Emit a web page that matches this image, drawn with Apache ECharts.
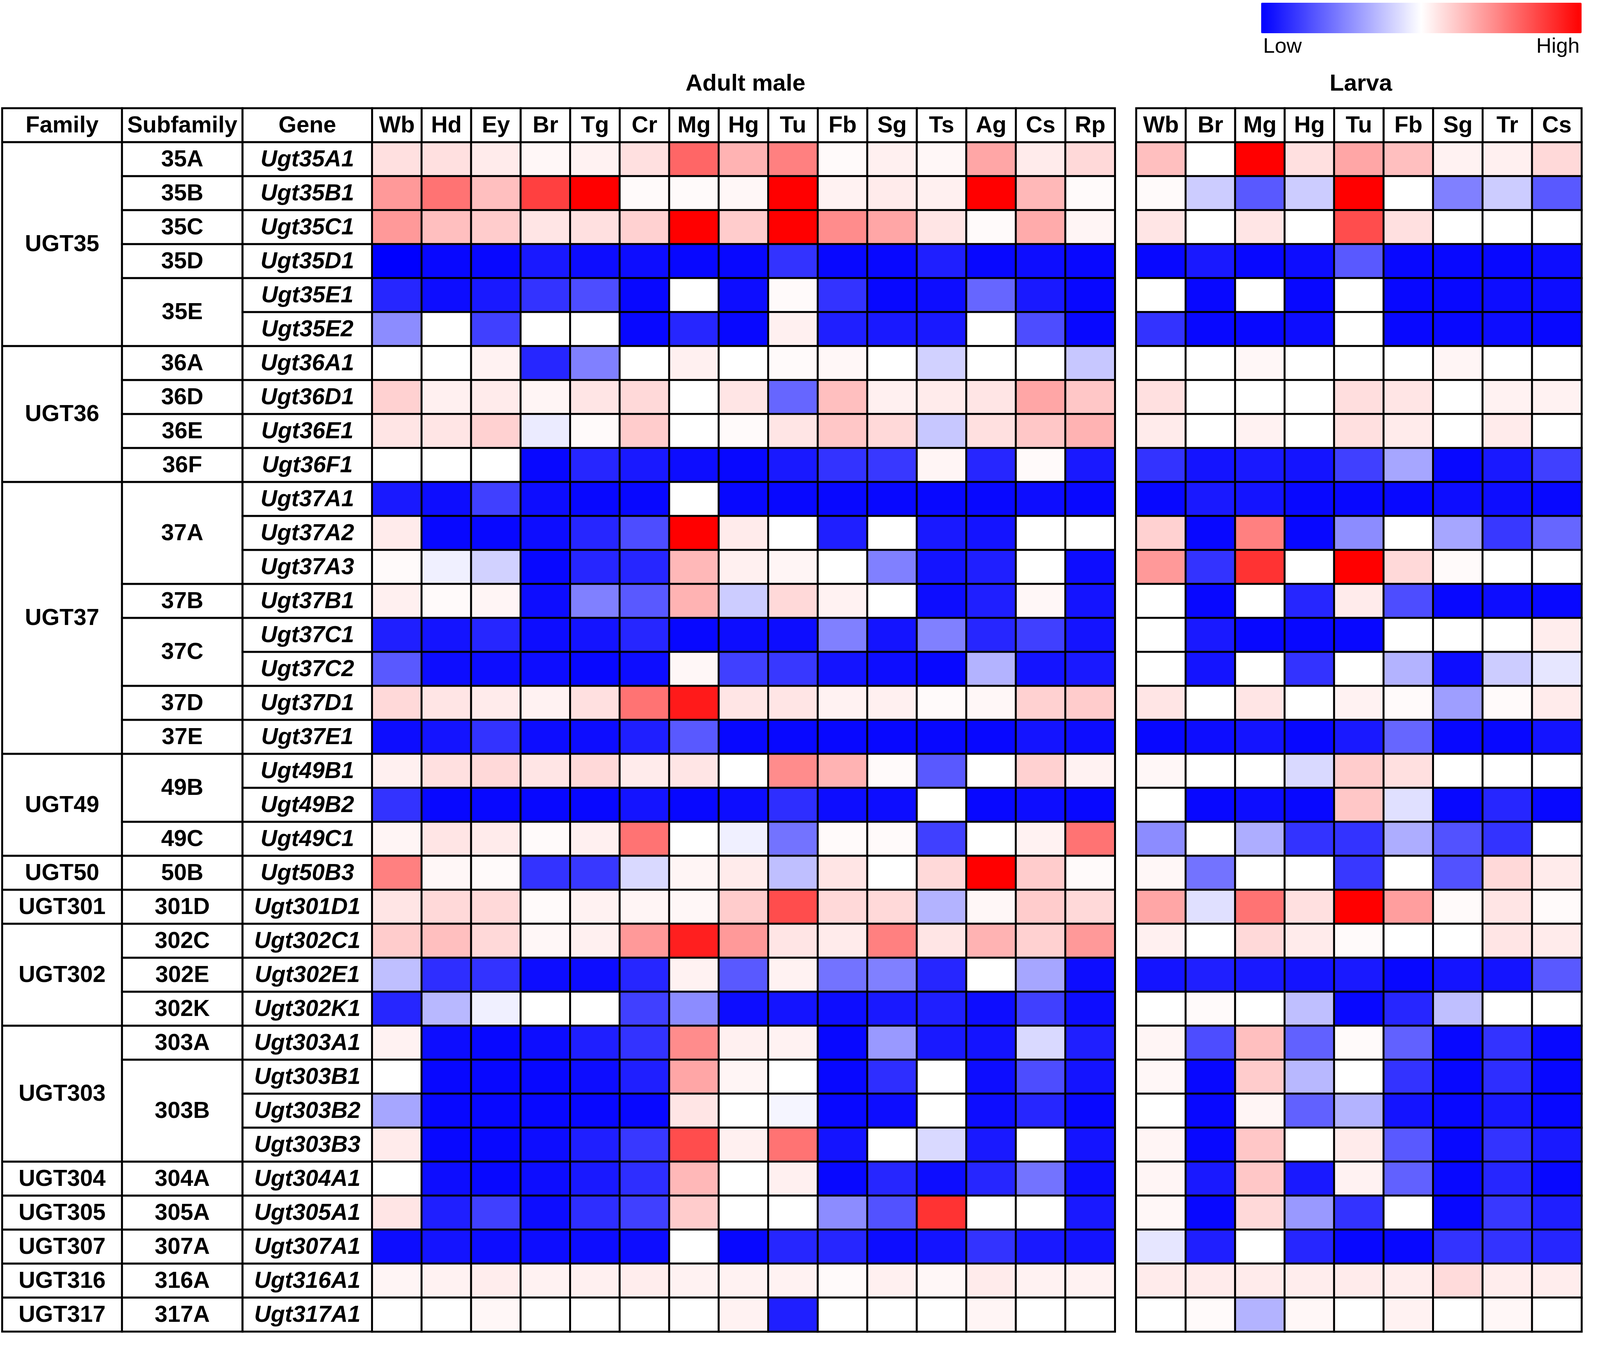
<!DOCTYPE html>
<html>
<head>
<meta charset="utf-8">
<script src="https://cdn.jsdelivr.net/npm/echarts@6/dist/echarts.min.js"></script>
<style>
html, body { margin: 0; padding: 0; background: #fff; overflow: hidden; }
#chart { width: 100vw; height: 100vh; }
</style>
</head>
<body>
<div id="chart"></div>
<script>
// tissues
var adultTissues = ['Wb','Hd','Ey','Br','Tg','Cr','Mg','Hg','Tu','Fb','Sg','Ts','Ag','Cs','Rp'];
var larvaTissues = ['Wb','Br','Mg','Hg','Tu','Fb','Sg','Tr','Cs'];

// row labels
var familyNames = ['UGT35','UGT36','UGT37','UGT49','UGT50','UGT301','UGT302','UGT303','UGT304','UGT305','UGT307','UGT316','UGT317'];
var familySizes = [6,4,8,3,1,1,3,4,1,1,1,1,1];
var subfamilyNames = ['35A','35B','35C','35D','35E','36A','36D','36E','36F','37A','37B','37C','37D','37E','49B','49C','50B','301D','302C','302E','302K','303A','303B','304A','305A','307A','316A','317A'];
var subfamilySizes = [1,1,1,1,2,1,1,1,1,3,1,2,1,1,2,1,1,1,1,1,1,1,3,1,1,1,1,1];
var genes = ['Ugt35A1','Ugt35B1','Ugt35C1','Ugt35D1','Ugt35E1','Ugt35E2','Ugt36A1','Ugt36D1','Ugt36E1','Ugt36F1',
  'Ugt37A1','Ugt37A2','Ugt37A3','Ugt37B1','Ugt37C1','Ugt37C2','Ugt37D1','Ugt37E1','Ugt49B1','Ugt49B2','Ugt49C1',
  'Ugt50B3','Ugt301D1','Ugt302C1','Ugt302E1','Ugt302K1','Ugt303A1','Ugt303B1','Ugt303B2','Ugt303B3','Ugt304A1',
  'Ugt305A1','Ugt307A1','Ugt316A1','Ugt317A1'];
var labelHeaders = ['Family','Subfamily','Gene'];

// relative expression, -1 = low (blue), 1 = high (red)
var adultValues = [
  [0.12,0.12,0.08,0.03,0.05,0.12,0.6,0.3,0.5,0.02,0.06,0.03,0.35,0.08,0.15],
  [0.4,0.55,0.25,0.75,1.0,0.02,0.02,0.03,1.0,0.05,0.08,0.06,1.0,0.28,0.02],
  [0.4,0.25,0.2,0.1,0.12,0.18,1.0,0.2,1.0,0.45,0.35,0.1,0.02,0.33,0.04],
  [-1,-0.97,-0.97,-0.9,-0.95,-0.95,-0.97,-0.97,-0.8,-0.97,-0.97,-0.88,-0.97,-0.95,-0.97],
  [-0.85,-0.95,-0.9,-0.8,-0.7,-0.97,0,-0.95,0.02,-0.8,-0.97,-0.95,-0.6,-0.9,-0.97],
  [-0.45,0,-0.75,0,0,-0.97,-0.85,-0.97,0.06,-0.88,-0.9,-0.9,0,-0.7,-0.97],
  [0,0,0.05,-0.85,-0.5,0,0.06,0,0.02,0.03,0,-0.18,0,0,-0.22],
  [0.18,0.06,0.08,0.04,0.1,0.15,0,0.1,-0.6,0.25,0.06,0.08,0.1,0.35,0.22],
  [0.1,0.1,0.18,-0.08,0.02,0.2,0,0.02,0.1,0.22,0.15,-0.22,0.12,0.22,0.3],
  [0,0,0,-0.97,-0.85,-0.9,-0.95,-0.97,-0.9,-0.8,-0.78,0.04,-0.85,0.02,-0.9],
  [-0.9,-0.95,-0.75,-0.95,-0.97,-0.97,0,-0.97,-0.97,-0.97,-0.97,-0.97,-0.97,-0.95,-0.97],
  [0.08,-0.97,-0.97,-0.95,-0.85,-0.7,1.0,0.08,0,-0.88,0,-0.9,-0.92,0,0],
  [0.02,-0.06,-0.18,-0.97,-0.85,-0.85,0.28,0.06,0.04,0,-0.5,-0.92,-0.88,0,-0.95],
  [0.06,0.02,0.04,-0.95,-0.5,-0.65,0.3,-0.2,0.15,0.05,0,-0.95,-0.88,0.03,-0.92],
  [-0.88,-0.92,-0.85,-0.95,-0.92,-0.85,-0.97,-0.95,-0.95,-0.5,-0.92,-0.5,-0.85,-0.75,-0.92],
  [-0.65,-0.95,-0.95,-0.95,-0.97,-0.95,0.03,-0.75,-0.78,-0.92,-0.95,-0.97,-0.3,-0.92,-0.9],
  [0.15,0.1,0.08,0.05,0.12,0.55,0.9,0.1,0.1,0.05,0.06,0.02,0.03,0.18,0.2],
  [-0.95,-0.92,-0.8,-0.95,-0.95,-0.88,-0.65,-0.97,-0.97,-0.97,-0.97,-0.97,-0.97,-0.92,-0.95],
  [0.06,0.12,0.15,0.1,0.15,0.08,0.1,0,0.45,0.3,0.02,-0.65,0,0.18,0.05],
  [-0.8,-0.97,-0.97,-0.97,-0.97,-0.92,-0.97,-0.95,-0.82,-0.95,-0.95,0,-0.97,-0.95,-0.97],
  [0.04,0.1,0.08,0.02,0.06,0.55,0,-0.06,-0.55,0.02,0.02,-0.75,0,0.05,0.55],
  [0.5,0.03,0.02,-0.8,-0.78,-0.15,0.04,0.08,-0.25,0.1,0,0.15,1.0,0.2,0.02],
  [0.1,0.15,0.15,0.02,0.05,0.04,0.03,0.2,0.7,0.15,0.15,-0.3,0.03,0.2,0.15],
  [0.2,0.25,0.15,0.03,0.06,0.4,0.88,0.4,0.1,0.08,0.5,0.1,0.3,0.18,0.4],
  [-0.25,-0.82,-0.8,-0.95,-0.95,-0.85,0.05,-0.65,0.05,-0.55,-0.5,-0.85,0,-0.35,-0.95],
  [-0.85,-0.28,-0.06,0,0,-0.75,-0.45,-0.95,-0.92,-0.95,-0.9,-0.88,-0.95,-0.75,-0.95],
  [0.05,-0.95,-0.97,-0.95,-0.88,-0.8,0.45,0.06,0.05,-0.97,-0.4,-0.9,-0.92,-0.15,-0.88],
  [0,-0.97,-0.97,-0.97,-0.95,-0.88,0.35,0.04,0,-0.97,-0.82,0,-0.95,-0.7,-0.92],
  [-0.35,-0.97,-0.97,-0.97,-0.97,-0.97,0.1,0,-0.04,-0.97,-0.95,0,-0.95,-0.85,-0.97],
  [0.08,-0.97,-0.97,-0.95,-0.88,-0.78,0.7,0.06,0.55,-0.92,0,-0.15,-0.9,0,-0.92],
  [0,-0.95,-0.97,-0.95,-0.9,-0.82,0.28,0,0.06,-0.97,-0.85,-0.95,-0.85,-0.55,-0.95],
  [0.1,-0.88,-0.75,-0.95,-0.82,-0.75,0.2,0,0,-0.45,-0.68,0.8,0,0,-0.9],
  [-0.95,-0.92,-0.95,-0.95,-0.95,-0.95,0,-0.97,-0.85,-0.85,-0.95,-0.92,-0.8,-0.9,-0.92],
  [0.04,0.05,0.07,0.05,0.06,0.07,0.05,0.05,0.05,0.02,0.06,0.03,0.08,0.05,0.05],
  [0,0,0.03,0,0,0,0,0.05,-0.88,0,0,0,0.04,0,0]
];
var larvaValues = [
  [0.25,0,1.0,0.12,0.35,0.25,0.05,0.06,0.15],
  [0.02,-0.2,-0.65,-0.2,1.0,0,-0.5,-0.2,-0.65],
  [0.1,0,0.1,0,0.7,0.12,0,0,0],
  [-0.97,-0.9,-0.97,-0.95,-0.65,-0.97,-0.97,-0.97,-0.95],
  [0,-0.97,0,-0.97,0,-0.97,-0.97,-0.95,-0.95],
  [-0.8,-0.97,-0.97,-0.95,0,-0.97,-0.97,-0.95,-0.97],
  [0,0,0.03,0,0,0,0.04,0,0],
  [0.12,0,0,0,0.13,0.1,0,0.05,0.05],
  [0.08,0,0.05,0,0.12,0.08,0,0.08,0],
  [-0.8,-0.92,-0.9,-0.92,-0.75,-0.35,-0.97,-0.9,-0.75],
  [-0.97,-0.9,-0.92,-0.97,-0.97,-0.97,-0.95,-0.95,-0.97],
  [0.18,-0.97,0.5,-0.97,-0.45,0,-0.35,-0.78,-0.6],
  [0.4,-0.8,0.8,0,1.0,0.15,0.02,0,0],
  [0,-0.97,0,-0.85,0.08,-0.7,-0.97,-0.95,-0.97],
  [0,-0.9,-0.97,-0.97,-0.97,0,0,0,0.07],
  [0,-0.92,0,-0.8,0,-0.3,-0.95,-0.2,-0.1],
  [0.1,0,0.1,0,0.05,0.02,-0.38,0.02,0.08],
  [-0.97,-0.95,-0.92,-0.97,-0.9,-0.6,-0.97,-0.97,-0.92],
  [0.03,0,0,-0.15,0.2,0.12,0,0,0],
  [0,-0.97,-0.95,-0.97,0.22,-0.12,-0.97,-0.85,-0.97],
  [-0.45,0,-0.32,-0.8,-0.8,-0.32,-0.68,-0.8,0],
  [0.03,-0.55,0,0,-0.78,0,-0.68,0.15,0.08],
  [0.35,-0.12,0.55,0.12,1.0,0.38,0.02,0.1,0.02],
  [0.06,0,0.15,0.08,0.02,0,0,0.1,0.08],
  [-0.92,-0.88,-0.9,-0.92,-0.9,-0.97,-0.92,-0.92,-0.65],
  [0,0.02,0,-0.25,-0.97,-0.85,-0.25,0,0],
  [0.04,-0.7,0.25,-0.62,0.02,-0.62,-0.97,-0.8,-0.97],
  [0.03,-0.97,0.2,-0.28,0,-0.8,-0.97,-0.82,-0.97],
  [0,-0.97,0.04,-0.62,-0.3,-0.92,-0.97,-0.9,-0.97],
  [0.04,-0.97,0.22,0,0.08,-0.65,-0.97,-0.8,-0.9],
  [0.04,-0.9,0.22,-0.9,0.05,-0.62,-0.97,-0.85,-0.97],
  [0.03,-0.97,0.15,-0.4,-0.8,0,-0.97,-0.78,-0.88],
  [-0.1,-0.88,0,-0.85,-0.97,-0.97,-0.8,-0.8,-0.85],
  [0.08,0.08,0.08,0.07,0.08,0.07,0.14,0.07,0.07],
  [0,0.02,-0.3,0.03,0,0.05,0,0.03,0]
];

var FONT = '"Liberation Sans", Arial, sans-serif';
var rowCats = ['header'].concat(genes);

var myChart = echarts.init(document.getElementById('chart'));
// the layout was measured on a 4433 x 3451 canvas, scale to whatever we get
var sx = myChart.getWidth() / 4433;
var sy = myChart.getHeight() / 3451;
var FS = Math.round(59 * sy);

// heatmap data, row 0 of each grid is the header row
function toHeat(values) {
  var out = [];
  values.forEach(function (row, r) {
    row.forEach(function (v, c) { out.push([c, r + 1, v]); });
  });
  return out;
}

// merged cells of one label column: [0, startRow, endRow]
function spanCells(header, names, sizes) {
  var cells = [[0, 0, 0]], texts = [header];
  var start = 1;
  names.forEach(function (n, i) {
    var size = sizes ? sizes[i] : 1;
    cells.push([0, start, start + size - 1]);
    texts.push(n);
    start += size;
  });
  return { cells: cells, texts: texts };
}
var familyCol = spanCells(labelHeaders[0], familyNames, familySizes);
var subfamilyCol = spanCells(labelHeaders[1], subfamilyNames, subfamilySizes);
var geneCol = spanCells(labelHeaders[2], genes, null);

function renderCell(texts, bodyStyle) {
  return function (params, api) {
    var c = api.value(0), r0 = api.value(1), r1 = api.value(2);
    var p = api.coord([c, r0]);
    var s = api.size([1, 1]);
    var x = p[0] - s[0] / 2, y = p[1] - s[1] / 2, h = s[1] * (r1 - r0 + 1);
    var style = r0 === 0 ? 'bold' : bodyStyle;
    return {
      type: 'group',
      children: [{
        type: 'rect',
        shape: { x: x, y: y, width: s[0], height: h },
        style: { fill: '#fff', stroke: '#000', lineWidth: 5 }
      }, {
        type: 'text',
        style: {
          text: texts[params.dataIndex],
          x: x + s[0] / 2, y: y + h / 2 + 2,
          align: 'center', verticalAlign: 'middle',
          font: style + ' ' + FS + 'px ' + FONT,
          fill: '#000'
        }
      }]
    };
  };
}

function headerData(list) {
  return list.map(function (t, i) { return [i, 0, 0]; });
}

var colLeft = [6, 338, 672, 1031, 3148];
var colWidth = [332, 334, 359, 2058, 1234];
var grids = colLeft.map(function (l, i) {
  return { left: l * sx, top: 277 * sy, width: colWidth[i] * sx, height: 3132 * sy };
});
var xCats = [['Family'], ['Subfamily'], ['Gene'], adultTissues, larvaTissues];

var titleStyle = { fontFamily: FONT, fontWeight: 'bold', fontSize: Math.round(60 * sy), color: '#000' };
var option = {
  backgroundColor: '#fff',
  animation: false,
  title: [
    { text: 'Adult male', left: 2060 * sx, top: 180 * sy, textAlign: 'center', textStyle: titleStyle },
    { text: 'Larva', left: 3765 * sx, top: 180 * sy, textAlign: 'center', textStyle: titleStyle },
    { text: 'Low', left: 3494 * sx, top: 88 * sy,
      textStyle: { fontFamily: FONT, fontWeight: 'normal', fontSize: Math.round(54 * sy), color: '#000' } },
    { text: 'High', right: 51 * sx, top: 88 * sy,
      textStyle: { fontFamily: FONT, fontWeight: 'normal', fontSize: Math.round(54 * sy), color: '#000' } }
  ],
  grid: grids,
  xAxis: xCats.map(function (cats, i) {
    return { type: 'category', gridIndex: i, data: cats, show: false };
  }),
  yAxis: grids.map(function (g, i) {
    return { type: 'category', gridIndex: i, data: rowCats, inverse: true, show: false };
  }),
  visualMap: {
    type: 'continuous',
    min: -1, max: 1,
    orient: 'horizontal',
    left: 3494 * sx, top: 7 * sy,
    itemWidth: 78 * sy, itemHeight: 888 * sx,
    padding: 0,
    text: null,
    showLabel: false,
    calculable: false,
    hoverLink: false,
    seriesIndex: [3, 5],
    inRange: { color: ['#0000ff', '#ffffff', '#ff0000'] }
  },
  series: [
    {
      type: 'custom', name: 'Family', xAxisIndex: 0, yAxisIndex: 0,
      data: familyCol.cells, clip: false, silent: true,
      renderItem: renderCell(familyCol.texts, 'bold')
    },
    {
      type: 'custom', name: 'Subfamily', xAxisIndex: 1, yAxisIndex: 1,
      data: subfamilyCol.cells, clip: false, silent: true,
      renderItem: renderCell(subfamilyCol.texts, 'bold')
    },
    {
      type: 'custom', name: 'Gene', xAxisIndex: 2, yAxisIndex: 2,
      data: geneCol.cells, clip: false, silent: true,
      renderItem: renderCell(geneCol.texts, 'italic bold')
    },
    {
      type: 'heatmap', name: 'Adult male', xAxisIndex: 3, yAxisIndex: 3,
      data: toHeat(adultValues),
      itemStyle: { borderColor: '#000', borderWidth: 5 },
      emphasis: { disabled: true }
    },
    {
      type: 'custom', name: 'adultHeader', xAxisIndex: 3, yAxisIndex: 3,
      data: headerData(adultTissues), clip: false, silent: true,
      renderItem: renderCell(adultTissues, 'bold')
    },
    {
      type: 'heatmap', name: 'Larva', xAxisIndex: 4, yAxisIndex: 4,
      data: toHeat(larvaValues),
      itemStyle: { borderColor: '#000', borderWidth: 5 },
      emphasis: { disabled: true }
    },
    {
      type: 'custom', name: 'larvaHeader', xAxisIndex: 4, yAxisIndex: 4,
      data: headerData(larvaTissues), clip: false, silent: true,
      renderItem: renderCell(larvaTissues, 'bold')
    }
  ]
};

myChart.setOption(option);
</script>
</body>
</html>
